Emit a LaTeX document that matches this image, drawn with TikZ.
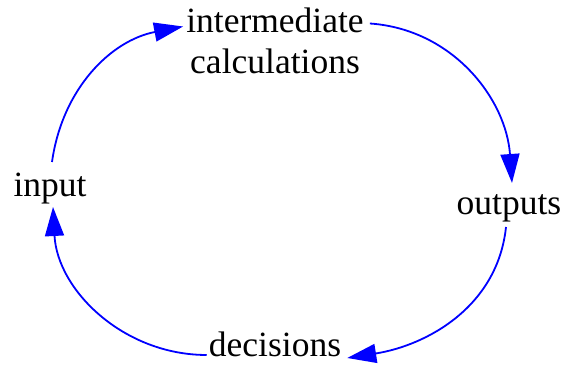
\documentclass[tikz,border=0pt]{standalone}
\usepackage{fontspec}
\setmainfont{Liberation Serif}
\usetikzlibrary{arrows.meta}

\begin{document}
\begin{tikzpicture}[
    x=1pt, y=1pt,
    stage/.style = {
        inner sep=0pt,
        font=\fontsize{35.5}{41}\selectfont
    },
    arrow/.style = {-{Triangle[length=29pt, width=19pt]}, line width=1.8pt, blue}
]
\useasboundingbox (0,0) rectangle (563,369);

%% Stage nodes
\node[stage, anchor=base] (input) at (50,172) {input};
\node[stage, align=center] (calc) at (275,328.5) {intermediate\\calculations};
\node[stage, anchor=base] (outputs) at (509,154) {outputs};
\node[stage, anchor=base] (decisions) at (275,12) {decisions};

%% Arrows around the loop
\draw[arrow] ([shift={(2pt,35pt)}]input.base) to[out=82, in=191] ([shift={(-3pt,14pt)}]calc.west);
\draw[arrow] ([shift={(6pt,17pt)}]calc.east) to[out=-4, in=94] ([shift={(3pt,32pt)}]outputs.base);
\draw[arrow] ([shift={(-3pt,-12pt)}]outputs.base) to[out=264, in=9] ([shift={(6pt,-1pt)}]decisions.base east);
\draw[arrow] ([shift={(-2pt,2pt)}]decisions.base west) to[out=180, in=273] ([shift={(3pt,-10pt)}]input.base);

\end{tikzpicture}
\end{document}
